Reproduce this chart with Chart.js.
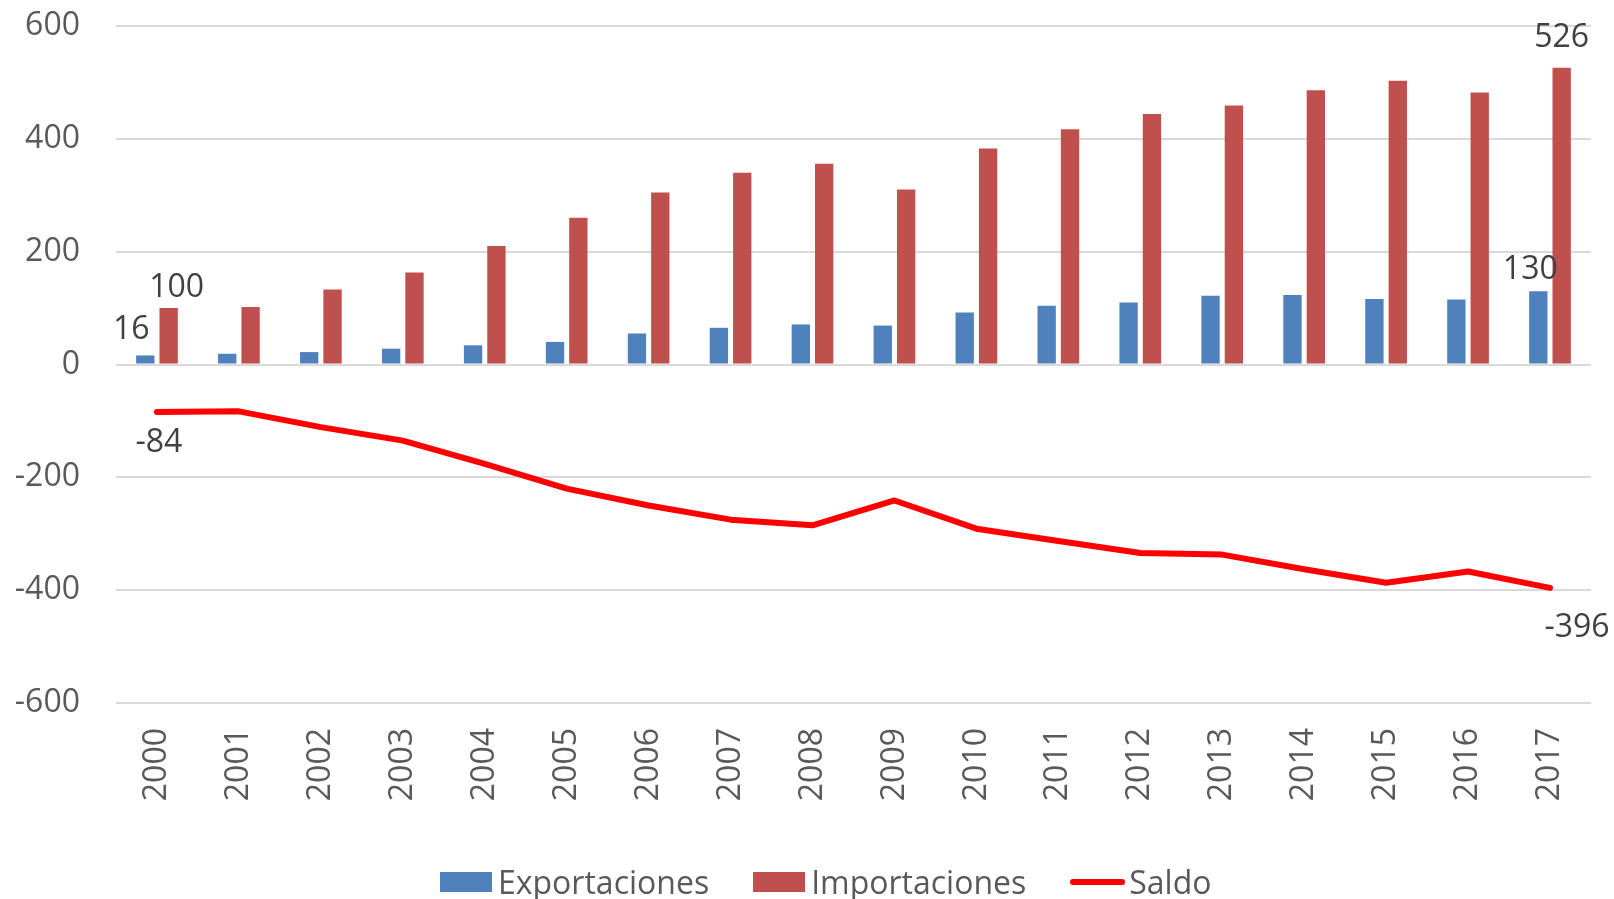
<!DOCTYPE html>
<html>
<head>
<meta charset="utf-8">
<script src="https://cdn.jsdelivr.net/npm/chart.js@4"></script>
<style>
  html, body { margin: 0; padding: 0; background: #fff; }
  #wrap { position: relative; width: 1614px; height: 899px; }
  #legend {
    position: absolute; left: 440px; top: 860px;
    display: flex; align-items: center;
    font-family: 'Open Sans', sans-serif; font-size: 32px; color: #595959;
  }
  .item { display: flex; align-items: center; margin-right: 44px; }
  .item:last-child { margin-right: 0; }
  .swatch { display: inline-block; width: 52px; height: 20px; margin-right: 6px; }
  .swatch.line { width: 55px; height: 6px; border-radius: 3px; margin-right: 4px; }
</style>
</head>
<body>
<div id="wrap">
  <canvas id="chart"></canvas>
  <div id="legend"></div>
</div>
<script>
const years = ['2000','2001','2002','2003','2004','2005','2006','2007','2008',
               '2009','2010','2011','2012','2013','2014','2015','2016','2017'];
const exportaciones = [16, 19, 22, 28, 34, 40, 55, 65, 71, 69, 92, 104, 110, 122, 123, 116, 115, 130];
const importaciones = [100, 102, 133, 163, 210, 260, 305, 340, 356, 310, 383, 417, 444, 459, 486, 503, 482, 526];
const saldo = [-84, -83, -111, -135, -176, -220, -250, -275, -285, -241, -291, -313, -334, -337, -363, -387, -367, -396];

const FONT = "'Open Sans', sans-serif";
const COLORS = { exp: '#4F81BD', imp: '#C0504D', saldo: '#FF0000', tick: '#595959', label: '#404040', grid: '#D9D9D9' };

// which values get a data label, and where it sits relative to the mark
const dataLabels = [
  { ds: 0, i: 0,  dx: -14, dy: -26 },
  { ds: 1, i: 0,  dx: 8,   dy: -20 },
  { ds: 0, i: 17, dx: -8,  dy: -21 },
  { ds: 1, i: 17, dx: 0,   dy: -30 },
  { ds: 2, i: 0,  dx: 2,   dy: 31 },
  { ds: 2, i: 17, dx: 27,  dy: 40 }
];

const labelPlugin = {
  id: 'pointLabels',
  afterDatasetsDraw(chart) {
    const ctx = chart.ctx;
    ctx.save();
    ctx.font = '32px ' + FONT;
    ctx.fillStyle = COLORS.label;
    ctx.textAlign = 'center';
    ctx.textBaseline = 'middle';
    dataLabels.forEach(l => {
      const el = chart.getDatasetMeta(l.ds).data[l.i];
      const v = chart.data.datasets[l.ds].data[l.i];
      ctx.fillText(String(v), el.x + l.dx, el.y + l.dy);
    });
    ctx.restore();
  }
};

const chart = new Chart(document.getElementById('chart').getContext('2d'), {
  data: {
    labels: years,
    datasets: [
      { type: 'bar', label: 'Exportaciones', data: exportaciones, backgroundColor: COLORS.exp,
        categoryPercentage: 0.57, barPercentage: 0.785, order: 2 },
      { type: 'bar', label: 'Importaciones', data: importaciones, backgroundColor: COLORS.imp,
        categoryPercentage: 0.57, barPercentage: 0.785, order: 2 },
      { type: 'line', label: 'Saldo', data: saldo, borderColor: COLORS.saldo, backgroundColor: COLORS.saldo,
        borderWidth: 6, pointRadius: 0, tension: 0, borderCapStyle: 'round', borderJoinStyle: 'round', order: 1 }
    ]
  },
  options: {
    responsive: true,
    maintainAspectRatio: false,
    animation: false,
    layout: { padding: { top: 26, right: 22, left: 0, bottom: 0 } },
    plugins: { legend: { display: false }, tooltip: { enabled: false } },
    scales: {
      x: {
        grid: { display: false, drawTicks: false },
        border: { display: false },
        ticks: { color: COLORS.tick, font: { family: FONT, size: 32 }, minRotation: 90, maxRotation: 90, padding: 25 },
        afterFit(scale) { scale.height = 196; scale.paddingTop = 0; scale.paddingBottom = 0; }
      },
      y: {
        min: -600, max: 600,
        grid: { color: COLORS.grid, lineWidth: 2, drawTicks: false },
        border: { display: false },
        ticks: { stepSize: 200, color: COLORS.tick, font: { family: FONT, size: 32 }, padding: 36 },
        afterFit(scale) { scale.width = 116; scale.paddingTop = 0; scale.paddingBottom = 0; }
      }
    }
  },
  plugins: [labelPlugin]
});

// legend built from the chart's own datasets
const legendEl = document.getElementById('legend');
chart.data.datasets.forEach(ds => {
  const item = document.createElement('span');
  item.className = 'item';
  const sw = document.createElement('span');
  sw.className = 'swatch' + (ds.type === 'line' ? ' line' : '');
  sw.style.background = ds.type === 'line' ? ds.borderColor : ds.backgroundColor;
  item.appendChild(sw);
  item.appendChild(document.createTextNode(ds.label));
  legendEl.appendChild(item);
});
</script>
</body>
</html>
